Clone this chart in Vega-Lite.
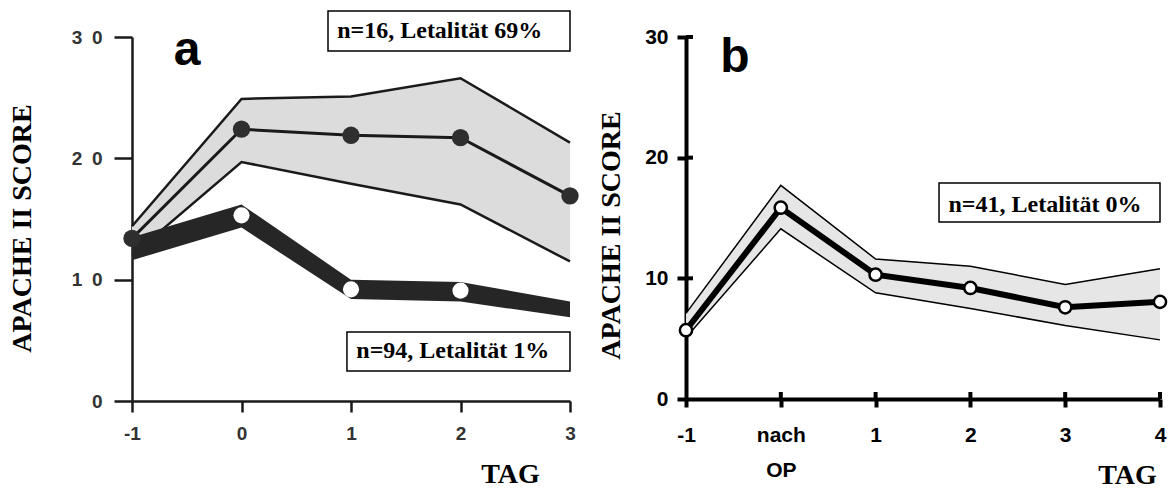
{
  "$schema": "https://vega.github.io/schema/vega-lite/v6.json",
  "background": "white",
  "padding": {"left": 8, "top": 10, "right": 5, "bottom": 5},
  "config": {"view": {"stroke": null}},
  "bounds": "flush",
  "spacing": 116,
  "datasets": {
    "a": [
      {"day": -1, "group": "g1", "mean": 13.4, "lo": 12.0, "hi": 14.4},
      {"day": 0, "group": "g1", "mean": 22.4, "lo": 19.7, "hi": 24.9},
      {"day": 1, "group": "g1", "mean": 21.9, "lo": 17.9, "hi": 25.1},
      {"day": 2, "group": "g1", "mean": 21.7, "lo": 16.2, "hi": 26.6},
      {"day": 3, "group": "g1", "mean": 16.9, "lo": 11.5, "hi": 21.3},
      {"day": -1, "group": "g2", "mean": 12.6, "lo": 11.6, "hi": 13.5},
      {"day": 0, "group": "g2", "mean": 15.3, "lo": 14.3, "hi": 16.2},
      {"day": 1, "group": "g2", "mean": 9.2, "lo": 8.4, "hi": 10.0},
      {"day": 2, "group": "g2", "mean": 9.1, "lo": 8.2, "hi": 9.8},
      {"day": 3, "group": "g2", "mean": 7.5, "lo": 6.9, "hi": 8.2}
    ],
    "b": [
      {"day": -1, "mean": 5.7, "lo": 5.1, "hi": 7.1},
      {"day": 0, "mean": 15.85, "lo": 14.1, "hi": 17.7},
      {"day": 1, "mean": 10.3, "lo": 8.8, "hi": 11.6},
      {"day": 2, "mean": 9.2, "lo": 7.5, "hi": 11.0},
      {"day": 3, "mean": 7.6, "lo": 6.1, "hi": 9.5},
      {"day": 4, "mean": 8.05, "lo": 4.9, "hi": 10.8}
    ],
    "boxesA": [
      {"x1": 0.79, "x2": 3.0, "y1": 32.14, "y2": 28.85, "tx": 1.81, "ty": 29.9, "text": "n=16, Letalität 69%"},
      {"x1": 0.963, "x2": 3.0, "y1": 5.69, "y2": 2.47, "tx": 1.93, "ty": 3.54, "text": "n=94, Letalität 1%"}
    ],
    "boxesB": [
      {"x1": 1.669, "x2": 4.0, "y1": 17.9, "y2": 14.67, "tx": 2.787, "ty": 15.5, "text": "n=41, Letalität 0%"}
    ],
    "panelA": [{"x": -0.498, "y": 27.7, "text": "a"}],
    "panelB": [{"x": -0.483, "y": 27.1, "text": "b"}],
    "ticksBy": [{"v": 10}, {"v": 20}, {"v": 30}],
    "ticksBx": [{"v": 0}, {"v": 1}, {"v": 2}, {"v": 3}, {"v": 4}]
  },
  "hconcat": [
    {
      "width": 438,
      "height": 364,
      "layer": [
        {
          "data": {"name": "a"},
          "transform": [{"filter": "datum.group == 'g1'"}],
          "mark": {"type": "area", "color": "#dcdcdc"},
          "encoding": {
            "x": {
              "field": "day", "type": "quantitative",
              "scale": {"domain": [-1, 3], "nice": false, "zero": false},
              "axis": {
                "values": [-1, 0, 1, 2, 3], "grid": false,
                "labelExpr": "datum.value == -1 ? '-1' : format(datum.value, 'd')",
                "domainWidth": 2.5, "domainColor": "#1a1a1a",
                "tickWidth": 2.5, "tickColor": "#1a1a1a", "tickSize": 11,
                "labelFont": "Liberation Sans", "labelFontWeight": "bold", "labelFontSize": 19,
                "labelColor": "#333333", "labelPadding": 12, "labelFlush": false, "labelOverlap": false,
                "title": "TAG", "titleFont": "Liberation Serif", "titleFontSize": 28, "titleFontWeight": "bold",
                "titleColor": "#000000", "titleX": 378, "titleY": 81, "titleAlign": "center", "titleBaseline": "alphabetic", "titleAngle": 0
              }
            },
            "y": {
              "field": "hi", "type": "quantitative",
              "scale": {"domain": [0, 30], "nice": false, "zero": false},
              "axis": {
                "values": [0, 10, 20, 30], "grid": false,
                "domainWidth": 2.5, "domainColor": "#1a1a1a",
                "tickWidth": 2.5, "tickColor": "#1a1a1a", "tickSize": 18,
                "labelExpr": "datum.value == 0 ? '0' : datum.value == 10 ? '1\u20020' : datum.value == 20 ? '2\u20020' : '3\u20020'",
                "labelFont": "Liberation Sans", "labelFontWeight": "bold", "labelFontSize": 19,
                "labelColor": "#333333", "labelPadding": 12, "labelFlush": false, "labelOverlap": false,
                "title": "APACHE II SCORE", "titleFont": "Liberation Serif", "titleFontSize": 28, "titleFontWeight": "bold",
                "titleColor": "#000000", "titleX": -110, "titleY": 191, "titleAlign": "center", "titleBaseline": "middle", "titleAngle": 270
              }
            },
            "y2": {"field": "lo"}
          }
        },
        {
          "mark": {"type": "rule", "color": "#1a1a1a", "strokeWidth": 2.5},
          "encoding": {
            "x": {"datum": -1.18, "type": "quantitative"},
            "x2": {"datum": -1},
            "y": {"datum": 0, "type": "quantitative"}
          }
        },
        {
          "data": {"name": "a"},
          "transform": [{"filter": "datum.group == 'g1'"}],
          "mark": {"type": "line", "color": "#1a1a1a", "strokeWidth": 2.5},
          "encoding": {
            "x": {"field": "day", "type": "quantitative"},
            "y": {"field": "hi", "type": "quantitative"}
          }
        },
        {
          "data": {"name": "a"},
          "transform": [{"filter": "datum.group == 'g1'"}],
          "mark": {"type": "line", "color": "#1a1a1a", "strokeWidth": 2.5},
          "encoding": {
            "x": {"field": "day", "type": "quantitative"},
            "y": {"field": "lo", "type": "quantitative"}
          }
        },
        {
          "data": {"name": "a"},
          "transform": [{"filter": "datum.group == 'g1'"}],
          "mark": {"type": "line", "color": "#1a1a1a", "strokeWidth": 3},
          "encoding": {
            "x": {"field": "day", "type": "quantitative"},
            "y": {"field": "mean", "type": "quantitative"}
          }
        },
        {
          "data": {"name": "a"},
          "transform": [{"filter": "datum.group == 'g2'"}],
          "mark": {"type": "area", "color": "#262626"},
          "encoding": {
            "x": {"field": "day", "type": "quantitative"},
            "y": {"field": "hi", "type": "quantitative"},
            "y2": {"field": "lo"}
          }
        },
        {
          "data": {"name": "a"},
          "transform": [{"filter": "datum.group == 'g1'"}],
          "mark": {"type": "point", "shape": "circle", "filled": true, "color": "#2e2e2e", "size": 300, "opacity": 1},
          "encoding": {
            "x": {"field": "day", "type": "quantitative"},
            "y": {"field": "mean", "type": "quantitative"}
          }
        },
        {
          "data": {"name": "a"},
          "transform": [{"filter": "datum.group == 'g2' && datum.day >= 0 && datum.day <= 2"}],
          "mark": {"type": "point", "shape": "circle", "filled": true, "color": "#ffffff", "size": 260, "opacity": 1},
          "encoding": {
            "x": {"field": "day", "type": "quantitative"},
            "y": {"field": "mean", "type": "quantitative"}
          }
        },
        {
          "data": {"name": "boxesA"},
          "mark": {"type": "rect", "fill": "#ffffff", "stroke": "#000000", "strokeWidth": 1.5},
          "encoding": {
            "x": {"field": "x1", "type": "quantitative"},
            "x2": {"field": "x2"},
            "y": {"field": "y1", "type": "quantitative"},
            "y2": {"field": "y2"}
          }
        },
        {
          "data": {"name": "boxesA"},
          "mark": {"type": "text", "font": "Liberation Serif", "fontWeight": "bold", "fontSize": 24, "align": "center", "baseline": "alphabetic", "color": "#000000"},
          "encoding": {
            "x": {"field": "tx", "type": "quantitative"},
            "y": {"field": "ty", "type": "quantitative"},
            "text": {"field": "text"}
          }
        },
        {
          "data": {"name": "panelA"},
          "mark": {"type": "text", "font": "Liberation Sans", "fontWeight": "bold", "fontSize": 48, "align": "center", "baseline": "alphabetic", "color": "#000000"},
          "encoding": {
            "x": {"field": "x", "type": "quantitative"},
            "y": {"field": "y", "type": "quantitative"},
            "text": {"field": "text"}
          }
        }
      ]
    },
    {
      "width": 474,
      "height": 362,
      "layer": [
        {
          "data": {"name": "b"},
          "mark": {"type": "area", "color": "#e6e6e6"},
          "encoding": {
            "x": {
              "field": "day", "type": "quantitative",
              "scale": {"domain": [-1, 4], "nice": false, "zero": false},
              "axis": {
                "values": [-1, 0, 1, 2, 3, 4], "grid": false,
                "domainWidth": 4, "domainColor": "#000000",
                "tickWidth": 4, "tickColor": "#000000", "tickSize": 8,
                "labelExpr": "datum.value == 0 ? ['nach', 'OP'] : datum.value == -1 ? '-1' : format(datum.value, 'd')",
                "labelLineHeight": 35,
                "labelFont": "Liberation Sans", "labelFontWeight": "bold", "labelFontSize": 21,
                "labelColor": "#000000", "labelPadding": 17, "labelFlush": false, "labelOverlap": false,
                "title": "TAG", "titleFont": "Liberation Serif", "titleFontSize": 28, "titleFontWeight": "bold",
                "titleColor": "#000000", "titleX": 441, "titleY": 84, "titleAlign": "center", "titleBaseline": "alphabetic", "titleAngle": 0
              }
            },
            "y": {
              "field": "hi", "type": "quantitative",
              "scale": {"domain": [0, 30], "nice": false, "zero": false},
              "axis": {
                "values": [0, 10, 20, 30], "grid": false,
                "domainWidth": 4, "domainColor": "#000000",
                "tickWidth": 4, "tickColor": "#000000", "tickSize": 9,
                "labelFont": "Liberation Sans", "labelFontWeight": "bold", "labelFontSize": 21,
                "labelColor": "#000000", "labelPadding": 9, "labelFlush": false, "labelOverlap": false,
                "title": "APACHE II SCORE", "titleFont": "Liberation Serif", "titleFontSize": 28, "titleFontWeight": "bold",
                "titleColor": "#000000", "titleX": -75, "titleY": 198, "titleAlign": "center", "titleBaseline": "middle", "titleAngle": 270
              }
            },
            "y2": {"field": "lo"}
          }
        },
        {
          "data": {"name": "ticksBy"},
          "mark": {"type": "rule", "color": "#000000", "strokeWidth": 4},
          "encoding": {
            "x": {"datum": -1, "type": "quantitative"},
            "x2": {"datum": -0.926},
            "y": {"field": "v", "type": "quantitative"}
          }
        },
        {
          "data": {"name": "ticksBx"},
          "mark": {"type": "rule", "color": "#000000", "strokeWidth": 4},
          "encoding": {
            "x": {"field": "v", "type": "quantitative"},
            "y": {"datum": 0, "type": "quantitative"},
            "y2": {"datum": 0.58}
          }
        },
        {
          "data": {"name": "b"},
          "mark": {"type": "line", "color": "#000000", "strokeWidth": 1.5},
          "encoding": {
            "x": {"field": "day", "type": "quantitative"},
            "y": {"field": "hi", "type": "quantitative"}
          }
        },
        {
          "data": {"name": "b"},
          "mark": {"type": "line", "color": "#000000", "strokeWidth": 1.5},
          "encoding": {
            "x": {"field": "day", "type": "quantitative"},
            "y": {"field": "lo", "type": "quantitative"}
          }
        },
        {
          "data": {"name": "b"},
          "mark": {"type": "line", "color": "#000000", "strokeWidth": 6},
          "encoding": {
            "x": {"field": "day", "type": "quantitative"},
            "y": {"field": "mean", "type": "quantitative"}
          }
        },
        {
          "data": {"name": "b"},
          "mark": {"type": "point", "shape": "circle", "filled": true, "fill": "#ffffff", "stroke": "#000000", "strokeWidth": 2.5, "size": 150, "opacity": 1},
          "encoding": {
            "x": {"field": "day", "type": "quantitative"},
            "y": {"field": "mean", "type": "quantitative"}
          }
        },
        {
          "data": {"name": "boxesB"},
          "mark": {"type": "rect", "fill": "#ffffff", "stroke": "#000000", "strokeWidth": 1.5},
          "encoding": {
            "x": {"field": "x1", "type": "quantitative"},
            "x2": {"field": "x2"},
            "y": {"field": "y1", "type": "quantitative"},
            "y2": {"field": "y2"}
          }
        },
        {
          "data": {"name": "boxesB"},
          "mark": {"type": "text", "font": "Liberation Serif", "fontWeight": "bold", "fontSize": 24, "align": "center", "baseline": "alphabetic", "color": "#000000"},
          "encoding": {
            "x": {"field": "tx", "type": "quantitative"},
            "y": {"field": "ty", "type": "quantitative"},
            "text": {"field": "text"}
          }
        },
        {
          "data": {"name": "panelB"},
          "mark": {"type": "text", "font": "Liberation Sans", "fontWeight": "bold", "fontSize": 48, "align": "center", "baseline": "alphabetic", "color": "#000000"},
          "encoding": {
            "x": {"field": "x", "type": "quantitative"},
            "y": {"field": "y", "type": "quantitative"},
            "text": {"field": "text"}
          }
        }
      ]
    }
  ]
}
